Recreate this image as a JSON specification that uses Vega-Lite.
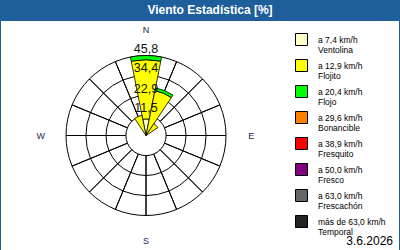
{
  "$schema": "https://vega.github.io/schema/vega-lite/v6.json",
  "background": "#1d5e9b",
  "padding": {"left": 1, "right": 1, "top": 4, "bottom": 1},
  "title": {
    "text": "Viento Estadística [%]",
    "color": "white",
    "font": "Liberation Sans",
    "fontSize": 12,
    "fontWeight": "bold",
    "anchor": "middle",
    "dx": 10,
    "offset": 4
  },
  "datasets": {
    "rosa": [
      {"dir": "N", "deg": 0, "orden": 1, "clase": "a 7,4 km/h|Ventolina", "v": 9.5},
      {"dir": "N", "deg": 0, "orden": 2, "clase": "a 12,9 km/h|Flojito", "v": 33.9},
      {"dir": "N", "deg": 0, "orden": 3, "clase": "a 20,4 km/h|Flojo", "v": 2.4},
      {"dir": "NNE", "deg": 22.5, "orden": 2, "clase": "a 12,9 km/h|Flojito", "v": 26.2},
      {"dir": "NNE", "deg": 22.5, "orden": 3, "clase": "a 20,4 km/h|Flojo", "v": 1.6},
      {"dir": "NE", "deg": 45, "orden": 2, "clase": "a 12,9 km/h|Flojito", "v": 8.2},
      {"dir": "NNW", "deg": 337.5, "orden": 2, "clase": "a 12,9 km/h|Flojito", "v": 11.8}
    ],
    "anillos": [
      {"ring": 11.5, "etiqueta": "11,5"},
      {"ring": 22.9, "etiqueta": "22,9"},
      {"ring": 34.4, "etiqueta": "34,4"},
      {"ring": 45.8, "etiqueta": "45,8"}
    ],
    "rumbos": [
      {"dir": "N", "deg": 0}, {"dir": "NNE", "deg": 22.5}, {"dir": "NE", "deg": 45}, {"dir": "ENE", "deg": 67.5},
      {"dir": "E", "deg": 90}, {"dir": "ESE", "deg": 112.5}, {"dir": "SE", "deg": 135}, {"dir": "SSE", "deg": 157.5},
      {"dir": "S", "deg": 180}, {"dir": "SSW", "deg": 202.5}, {"dir": "SW", "deg": 225}, {"dir": "WSW", "deg": 247.5},
      {"dir": "W", "deg": 270}, {"dir": "WNW", "deg": 292.5}, {"dir": "NW", "deg": 315}, {"dir": "NNW", "deg": 337.5}
    ],
    "cardinales": [
      {"dir": "N", "deg": 0}, {"dir": "E", "deg": 90}, {"dir": "S", "deg": 180}, {"dir": "W", "deg": 270}
    ],
    "fecha": [{"fecha": "3.6.2026"}]
  },
  "spacing": 0,
  "hconcat": [
    {
      "width": 290,
      "height": 229,
      "view": {"fill": "white", "stroke": null},
      "layer": [
        {
          "data": {"name": "anillos"},
          "mark": {"type": "arc", "filled": false, "stroke": "black", "strokeWidth": 1},
          "encoding": {
            "theta": {"value": 0},
            "theta2": {"value": 6.3},
            "radius": {"field": "ring", "type": "quantitative", "stack": null, "scale": {"type": "linear", "domain": [0, 45.8], "range": [0, 80], "zero": true}},
            "radius2": {"value": 0}
          }
        },
        {
          "data": {"name": "rumbos"},
          "mark": {"type": "arc", "filled": false, "stroke": "black", "strokeWidth": 1},
          "encoding": {
            "theta": {"field": "deg", "type": "quantitative", "scale": {"type": "linear", "domain": [0, 360], "range": [0, 6.283185307179586]}, "stack": null},
            "theta2": {"field": "deg"},
            "radius": {"datum": 45.8, "type": "quantitative", "stack": null},
            "radius2": {"datum": 11.5}
          }
        },
        {
          "data": {"name": "rosa"},
          "transform": [
            {"stack": "v", "groupby": ["dir"], "sort": [{"field": "orden", "order": "ascending"}], "as": ["r0", "r1"]}
          ],
          "mark": {"type": "arc", "thetaOffset": -0.19635, "theta2Offset": 0.19635, "stroke": "black", "strokeWidth": 0.8},
          "encoding": {
            "theta": {"field": "deg", "type": "quantitative", "stack": null},
            "theta2": {"field": "deg"},
            "radius": {"field": "r1", "type": "quantitative", "stack": null},
            "radius2": {"field": "r0"},
            "color": {
              "field": "clase",
              "type": "nominal",
              "scale": {
                "domain": [
                  "a 7,4 km/h|Ventolina",
                  "a 12,9 km/h|Flojito",
                  "a 20,4 km/h|Flojo",
                  "a 29,6 km/h|Bonancible",
                  "a 38,9 km/h|Fresquito",
                  "a 50,0 km/h|Fresco",
                  "a 63,0 km/h|Frescachón",
                  "más de 63,0 km/h|Temporal"
                ],
                "range": ["#ffffcc", "#ffff00", "#00ff00", "#ff8000", "#ff0000", "#800080", "#666666", "#222222"]
              },
              "legend": {
                "orient": "none",
                "legendX": 294,
                "legendY": 12,
                "title": null,
                "symbolType": "square",
                "symbolSize": 144,
                "symbolStrokeColor": "black",
                "symbolStrokeWidth": 1,
                "symbolOpacity": 1,
                "labelFont": "Liberation Sans",
                "labelFontSize": 8.5,
                "labelColor": "#000000",
                "labelExpr": "split(datum.label, '|')",
                "labelOffset": 10,
                "labelBaseline": "middle",
                "labelLimit": 200,
                "rowPadding": 2
              }
            },
            "order": {"field": "orden"}
          }
        },
        {
          "data": {"name": "anillos"},
          "mark": {"type": "text", "font": "Liberation Sans", "fontSize": 12.5, "color": "#111111", "baseline": "alphabetic", "dy": -3},
          "encoding": {
            "theta": {"datum": 0, "type": "quantitative"},
            "radius": {"field": "ring", "type": "quantitative", "stack": null},
            "text": {"field": "etiqueta"}
          }
        },
        {
          "data": {"name": "cardinales"},
          "mark": {"type": "text", "font": "Liberation Sans", "fontSize": 9, "color": "#1a2a4a", "baseline": "middle"},
          "encoding": {
            "theta": {"field": "deg", "type": "quantitative", "stack": null},
            "radius": {"datum": 60.3, "type": "quantitative", "stack": null},
            "text": {"field": "dir"}
          }
        }
      ]
    },
    {
      "width": 108,
      "height": 229,
      "view": {"fill": "white", "stroke": null},
      "data": {"name": "fecha"},
      "mark": {"type": "text", "font": "Liberation Sans", "fontSize": 12, "color": "#000000", "align": "right", "baseline": "alphabetic", "dx": -6, "dy": -5},
      "encoding": {
        "x": {"value": "width"},
        "y": {"value": "height"},
        "text": {"field": "fecha"}
      }
    }
  ],
  "config": {
    "view": {"fill": "white", "stroke": null},
    "concat": {"spacing": 0}
  }
}
